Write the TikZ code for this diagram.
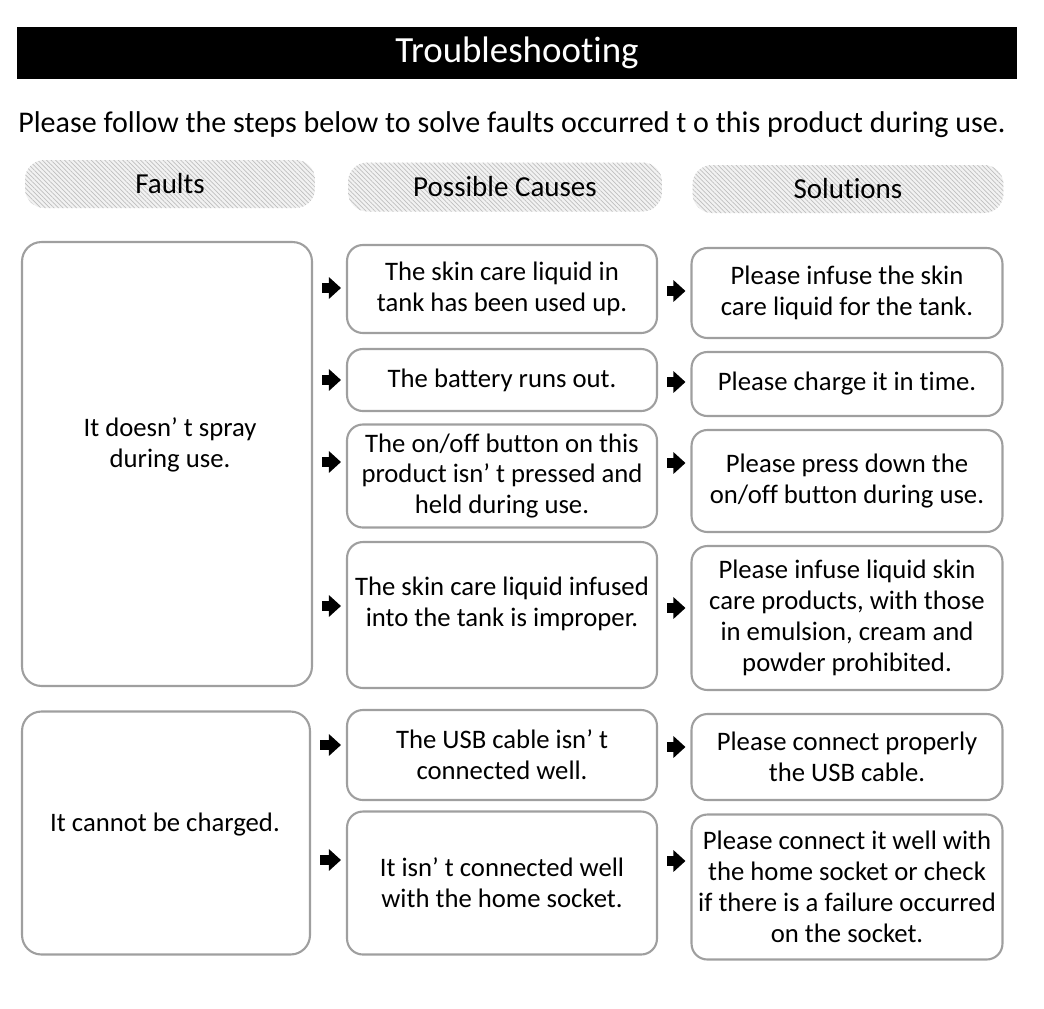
\documentclass[tikz,border=0pt]{standalone}
\usepackage{fontspec}
\setmainfont{Carlito}[Ligatures={NoCommon}]
\usetikzlibrary{arrows.meta,patterns.meta}
\begin{document}
\begin{tikzpicture}[x=0.02cm,y=-0.02cm,
  bx/.style={draw=gray!75, line width=1.2pt, rounded corners=9pt, align=center, inner sep=0pt, font=\fontsize{15.2}{17.6}\selectfont},
  fbx/.style={bx, rounded corners=11pt},
  pill/.style={rounded corners=11pt, preaction={fill=gray!10}, pattern={Lines[angle=-45, distance=1.8pt, line width=0.4pt]}, pattern color=gray!50, inner sep=0pt, font=\fontsize{16.5}{19}\selectfont},
  arr/.style={line width=5.4pt, -{Triangle[length=0.24cm,width=0.42cm]}},
  carr/.style={arr, shorten <=0.18cm, shorten >=0.1cm},
  sarr/.style={arr, shorten <=0.18cm, shorten >=0.1cm},
  txt/.style={align=center, inner sep=0pt, font=\fontsize{15.2}{17.6}\selectfont}
]
\useasboundingbox (0,0) rectangle (1044,1008);
% title bar
\node[fill=black, text=white, minimum width=20cm, minimum height=1.06cm, inner sep=0pt,
      font=\fontsize{21}{24}\selectfont] (bar) at (517,53) {Troubleshooting};
\node[inner sep=0pt, font=\fontsize{17.1}{20}\selectfont] (intro) at (512,125)
  {Please follow the steps below to solve faults occurred t o this product during use.};
% header pills
\node[pill, minimum width=5.8cm, minimum height=0.96cm] (hF) at (170,184) {Faults};
\node[pill, minimum width=6.28cm, minimum height=0.98cm] (hC) at (505,187) {Possible Causes};
\node[pill, minimum width=6.22cm, minimum height=0.96cm] (hS) at (848,189) {Solutions};
% faults
\node[fbx, minimum width=5.8cm, minimum height=8.88cm] (f1) at (167,464) {};
\node[txt] (f1t) at (170,445) {It doesn’ t spray\\during use.};
\node[fbx, minimum width=5.76cm, minimum height=4.86cm] (f2) at (166,833) {};
\node[txt] (f2t) at (165,825) {It cannot be charged.};
% causes
\node[bx, minimum width=6.2cm, minimum height=1.76cm] (c1) at (502,289) {The skin care liquid in\\tank has been used up.};
\node[bx, minimum width=6.2cm, minimum height=1.24cm] (c2) at (502,380) {The battery runs out.};
\node[bx, minimum width=6.2cm, minimum height=2.06cm] (c3) at (502,476) {The on/off button on this\\product isn’ t pressed and\\held during use.};
\node[bx, minimum width=6.2cm, minimum height=2.92cm] (c4) at (502,615) {};
\node[txt] (c4t) at (502,604) {The skin care liquid infused\\into the tank is improper.};
\node[bx, minimum width=6.2cm, minimum height=1.80cm] (c5) at (502,755) {The USB cable isn’ t\\connected well.};
\node[bx, minimum width=6.2cm, minimum height=2.86cm] (c6) at (502,883) {It isn’ t connected well\\with the home socket.};
% solutions
\node[bx, minimum width=6.22cm, minimum height=1.80cm] (s1) at (847,293) {Please infuse the skin\\care liquid for the tank.};
\node[bx, minimum width=6.22cm, minimum height=1.28cm] (s2) at (847,384) {Please charge it in time.};
\node[bx, minimum width=6.22cm, minimum height=2.04cm] (s3) at (847,481) {Please press down the\\on/off button during use.};
\node[bx, minimum width=6.22cm, minimum height=2.88cm] (s4) at (847,618) {Please infuse liquid skin\\care products, with those\\in emulsion, cream and\\powder prohibited.};
\node[bx, minimum width=6.22cm, minimum height=1.72cm] (s5) at (847,757) {Please connect properly\\the USB cable.};
\node[bx, minimum width=6.22cm, minimum height=2.90cm] (s6) at (847,887) {Please connect it well with\\the home socket or check\\if there is a failure occurred\\on the socket.};
% arrows fault -> cause
\draw[carr] (f1.east |- 0,288) -- (c1.west |- 0,288);
\draw[carr] (f1.east |- 0,380) -- (c2.west |- 0,380);
\draw[carr] (f1.east |- 0,462) -- (c3.west |- 0,462);
\draw[carr] (f1.east |- 0,606) -- (c4.west |- 0,606);
\draw[carr] (f2.east |- 0,745) -- (c5.west |- 0,745);
\draw[carr] (f2.east |- 0,860) -- (c6.west |- 0,860);
% arrows cause -> solution
\draw[sarr] (c1.east |- 0,291) -- (s1.west |- 0,291);
\draw[sarr] (c2.east |- 0,382) -- (s2.west |- 0,382);
\draw[sarr] (c3.east |- 0,463) -- (s3.west |- 0,463);
\draw[sarr] (c4.east |- 0,608) -- (s4.west |- 0,608);
\draw[sarr] (c5.east |- 0,747) -- (s5.west |- 0,747);
\draw[sarr] (c6.east |- 0,861) -- (s6.west |- 0,861);
\end{tikzpicture}
\end{document}
